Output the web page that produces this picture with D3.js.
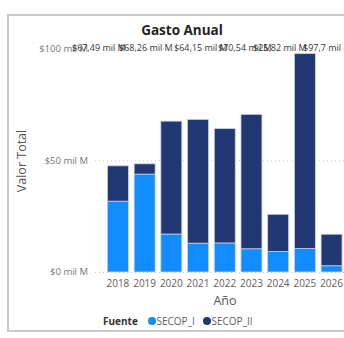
<!DOCTYPE html>
<html>
<head>
<meta charset="utf-8">
<script src="https://cdn.jsdelivr.net/npm/d3@7"></script>
<style>
  html, body { margin: 0; padding: 0; background: #ffffff; }
  svg { display: block; }
  text { font-family: "Open Sans", "Noto Sans", sans-serif; }
</style>
</head>
<body>
<svg id="chart" width="344" height="338"></svg>
<script>
// ---- data ----
const years = ["2018", "2019", "2020", "2021", "2022", "2023", "2024", "2025", "2026"];
const secopI  = [31.7, 43.8, 17.0, 12.9, 13.0, 10.4, 9.2, 10.5, 2.8];
const secopII = [15.8, 4.6, 50.49, 55.36, 51.15, 60.14, 16.62, 87.2, 14.1];
const series = ["SECOP_I", "SECOP_II"];
const yTicks = [0, 50, 100];
const yTickLabels = ["$0 mil M", "$50 mil M", "$100 mil M"];
const topLabels = ["$67,49 mil M", "$68,26 mil M", "$64,15 mil M", "$70,54 mil M", "$25,82 mil M", "$97,7 mil M"];

// ---- layout ----
const colors = { SECOP_I: "#118DFF", SECOP_II: "#223873" };
const labelStartX = [72, 119, 174, 218, 253, 303];

const svg = d3.select("#chart");

// outer frame
svg.append("rect")
  .attr("x", 8).attr("y", 15)
  .attr("width", 360).attr("height", 316)
  .attr("fill", "#ffffff")
  .attr("stroke", "#c8c8c8").attr("stroke-width", 2);

const x = d3.scaleBand().domain(years).range([104.5, 345]).paddingInner(0.215).paddingOuter(0.11);
const y = d3.scaleLinear().domain([0, 100]).range([272, 48.5]);

// gridlines
svg.append("g").selectAll("line").data(yTicks).join("line")
  .attr("x1", 95).attr("x2", 344)
  .attr("y1", d => y(d) + 0.5).attr("y2", d => y(d) + 0.5)
  .attr("stroke", "#c8c6c4").attr("stroke-width", 1)
  .attr("stroke-dasharray", "1,3");

// y tick labels
svg.append("g").selectAll("text").data(yTicks).join("text")
  .attr("x", 88).attr("y", d => y(d))
  .attr("dy", "0.35em")
  .attr("text-anchor", "end")
  .attr("font-size", 9.5)
  .attr("fill", "#777777")
  .text((d, i) => yTickLabels[i]);

// stacked bars
const rows = years.map((yr, i) => ({ year: yr, SECOP_I: secopI[i], SECOP_II: secopII[i] }));
const stack = d3.stack().keys(series)(rows);
svg.append("g").selectAll("g").data(stack).join("g")
  .attr("fill", d => colors[d.key])
  .selectAll("rect").data(d => d).join("rect")
  .attr("x", d => x(d.data.year))
  .attr("y", d => y(d[1]))
  .attr("width", x.bandwidth())
  .attr("height", d => y(d[0]) - y(d[1]))
  .attr("stroke", "#c9cfe3").attr("stroke-width", 0.8);

// x tick labels
svg.append("g").selectAll("text").data(years).join("text")
  .attr("x", d => x(d) + x.bandwidth() / 2)
  .attr("y", 283)
  .attr("dy", "0.35em")
  .attr("text-anchor", "middle")
  .attr("font-size", 10)
  .attr("fill", "#605e5c")
  .text(d => d);

// top data labels
svg.append("g").selectAll("text").data(topLabels).join("text")
  .attr("x", (d, i) => labelStartX[i])
  .attr("y", 47.5)
  .attr("dy", "0.35em")
  .attr("font-size", 9)
  .attr("fill", "#3a3a3a")
  .text(d => d);

// title
svg.append("text")
  .attr("x", 182).attr("y", 30).attr("dy", "0.35em")
  .attr("text-anchor", "middle")
  .attr("font-size", 13.5).attr("font-weight", "bold")
  .attr("fill", "#252423")
  .text("Gasto Anual");

// axis titles
svg.append("text")
  .attr("transform", "translate(22,161) rotate(-90)")
  .attr("dy", "0.35em")
  .attr("text-anchor", "middle")
  .attr("font-size", 12.5)
  .attr("fill", "#555555")
  .text("Valor Total");

svg.append("text")
  .attr("x", 225).attr("y", 301).attr("dy", "0.35em")
  .attr("text-anchor", "middle")
  .attr("font-size", 12.5)
  .attr("fill", "#555555")
  .text("Año");

// legend
const legend = svg.append("g");
legend.append("text")
  .attr("x", 103).attr("y", 321).attr("dy", "0.35em")
  .attr("font-size", 10).attr("font-weight", "bold")
  .attr("fill", "#333333")
  .text("Fuente");
const legendX = [152, 207];
const li = legend.selectAll("g.item").data(series).join("g").attr("class", "item")
  .attr("transform", (d, i) => `translate(${legendX[i]},321)`);
li.append("circle").attr("r", 4).attr("fill", d => colors[d]);
li.append("text").attr("x", 4.5).attr("dy", "0.35em")
  .attr("font-size", 10).attr("fill", "#605e5c").text(d => d);
</script>
</body>
</html>
